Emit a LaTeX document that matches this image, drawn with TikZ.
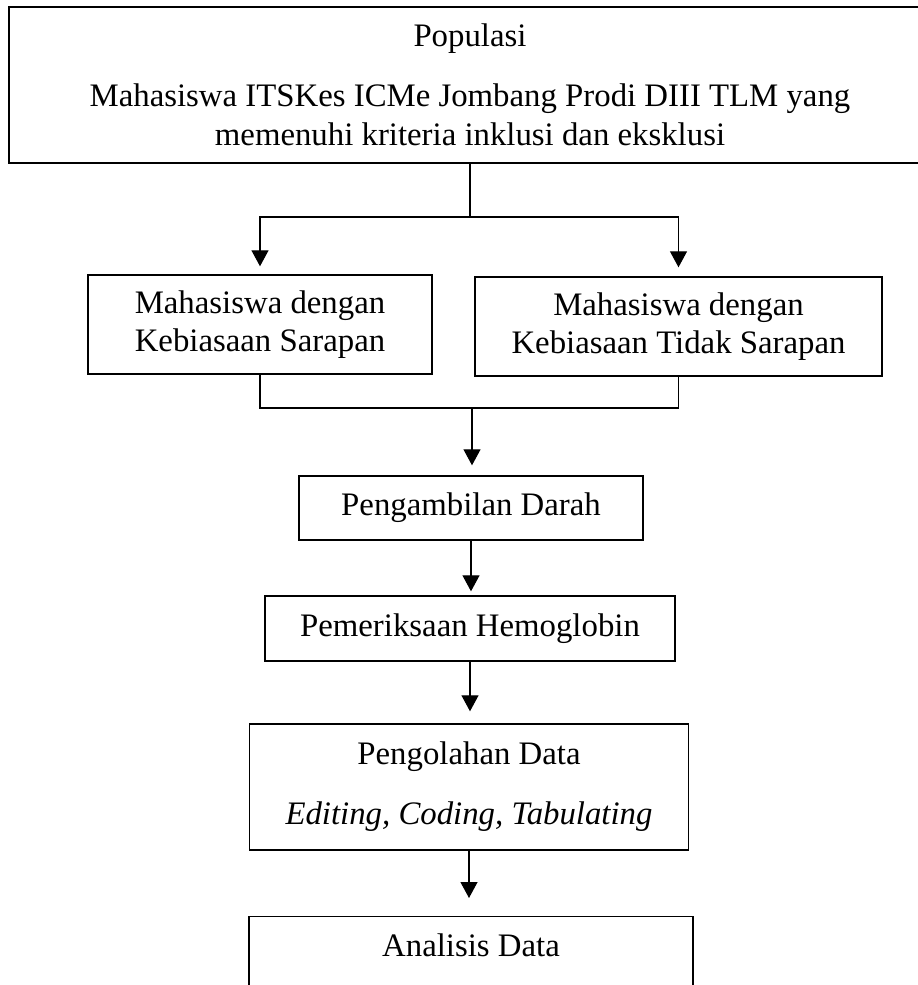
\documentclass[tikz,border=0pt]{standalone}
\usepackage{fontspec}
\setmainfont{Liberation Serif}
\usetikzlibrary{arrows.meta}
\begin{document}
\begin{tikzpicture}[x=1pt,y=-1pt,
  boxbase/.style={draw, line width=1.4pt, inner sep=0pt, font=\fontsize{32.8}{38.5}\selectfont},
  box/.style={boxbase, align=center},
  conn/.style={line width=1.2pt},
  arr/.style={conn, -{Triangle[width=17pt,length=16pt]}}]
\clip (0,0) rectangle (918,985);
\node[box, minimum width=922pt, minimum height=156pt] (pop) at (470,85)
  {Populasi\\[21.5pt]Mahasiswa ITSKes ICMe Jombang Prodi DIII TLM yang\\memenuhi kriteria inklusi dan eksklusi};
\node[box, minimum width=344pt, minimum height=99pt] (sar) at (260,324.5)
  {Mahasiswa dengan\\Kebiasaan Sarapan};
\node[box, minimum width=407pt, minimum height=99pt] (tsar) at (678.5,326.5)
  {Mahasiswa dengan\\Kebiasaan Tidak Sarapan};
\node[box, minimum width=344pt, minimum height=64pt] (darah) at (471,508)
  {Pengambilan Darah};
\node[box, minimum width=410pt, minimum height=65pt] (hb) at (470,628.5)
  {Pemeriksaan Hemoglobin};
\node[box, minimum width=439pt, minimum height=126pt] (olah) at (469,787)
  {Pengolahan Data\\[21.5pt]\textit{Editing, Coding, Tabulating}};
\node[boxbase, anchor=north, minimum width=444pt, text height=40pt, text depth=110pt] (anl) at (471,916)
  {Analisis Data};
\coordinate (s1) at (470,217);
\draw[conn] (pop.south) -- (s1);
\draw[arr, shorten >=8pt] (s1) -| (sar.north);
\draw[arr, shorten >=9pt] (s1) -| (tsar.north);
\coordinate (s2) at (472,408);
\draw[conn] (sar.south) |- (s2) -| (tsar.south);
\draw[arr, shorten >=10pt] (s2) -- (s2 |- darah.north);
\draw[arr, shorten >=4pt] (darah.south) -- (darah.south |- hb.north);
\draw[arr, shorten >=12pt] (hb.south) -- (hb.south |- olah.north);
\draw[arr, shorten >=18pt] (olah.south) -- (olah.south |- anl.north);
\end{tikzpicture}
\end{document}
